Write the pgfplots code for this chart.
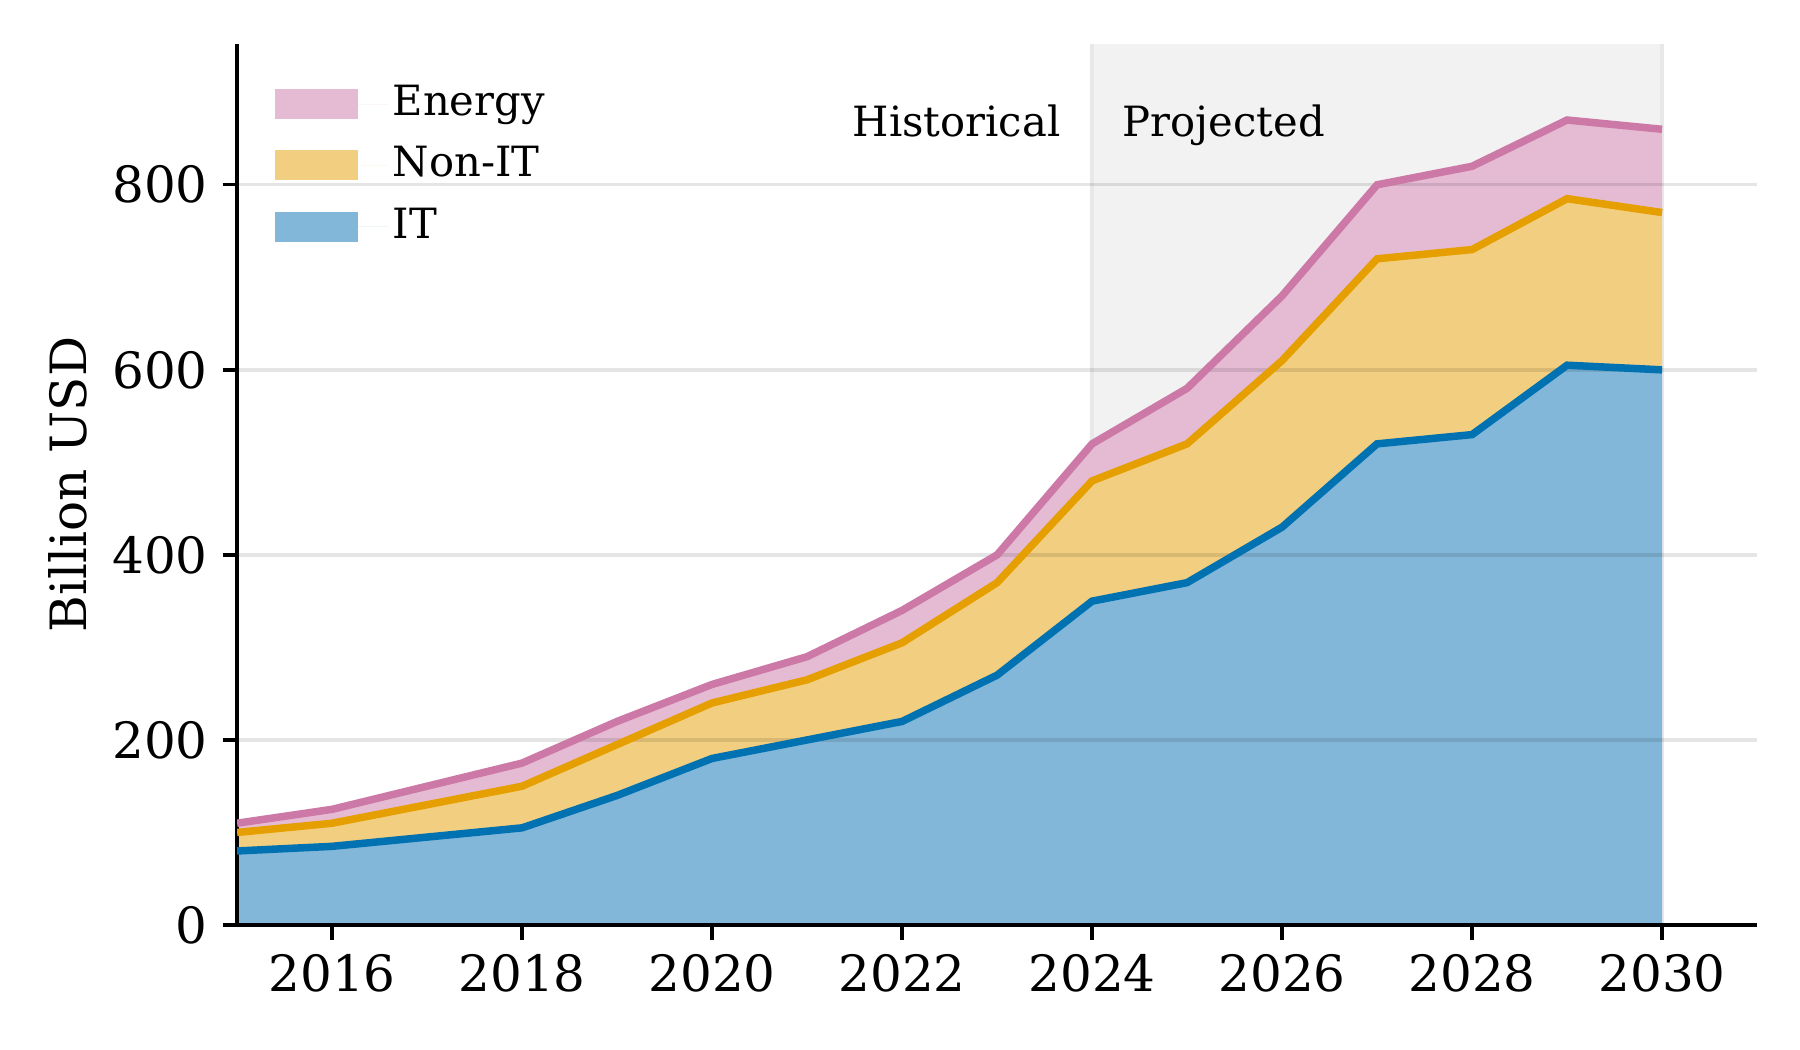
\documentclass[border=0pt]{standalone}
\usepackage{fontspec}
\setmainfont{DejaVu Serif}
\usepackage{pgfplots}
\usepackage{pgfplotstable}
\pgfplotsset{compat=1.18}
\usepgfplotslibrary{fillbetween}

\definecolor{itblue}{HTML}{0072B2}
\definecolor{nonitorange}{HTML}{E69F00}
\definecolor{energypink}{HTML}{CC79A7}
\definecolor{itfill}{HTML}{82B7D9}
\definecolor{nonitfill}{HTML}{F2CF80}
\definecolor{energyfill}{HTML}{E5BBD3}

\pgfplotsset{
    layers/chartlayers/.define layer set={
        axis background,pre main,axis grid,main,
        axis ticks,axis lines,axis tick labels,
        axis descriptions,axis foreground}{},
}

% cumulative tops of the stacked areas (billion USD)
\pgfplotstableread{
year it  nonit energy
2015 80  100   110
2016 85  110   125
2017 95  130   150
2018 105 150   175
2019 140 195   220
2020 180 240   260
2021 200 265   290
2022 220 305   340
2023 270 370   400
2024 350 480   520
2025 370 520   580
2026 430 610   680
2027 520 720   800
2028 530 730   820
2029 605 785   870
2030 600 770   860
}\costs

\begin{document}
\begin{tikzpicture}
\begin{axis}[
    set layers=chartlayers,
    fill between/on layer=pre main,
    at={(0pt,0pt)}, anchor=south west,
    scale only axis,
    width=364.8pt, height=211.4pt,
    xmin=2015, xmax=2031,
    ymin=0, ymax=952,
    xtick={2016,2018,...,2030},
    ytick={0,200,...,800},
    axis x line*=bottom, axis y line*=left,
    axis line style={black, line width=0.8pt},
    tick align=outside,
    major tick length=3.5pt,
    every tick/.style={black, line width=0.8pt},
    ymajorgrids=true,
    grid style={black, opacity=0.1, line width=0.8pt},
    /pgf/number format/1000 sep={},
    /pgf/number format/assume math mode=true,
    tick label style={font=\fontsize{12}{14}\selectfont},
    ylabel={Billion USD},
    ylabel style={font=\fontsize{12}{14}\selectfont,
        at={(axis description cs:-0.1116,0.5)}, anchor=center},
    reverse legend,
    legend cell align=left,
    legend style={at={(axis description cs:0.0245,0.96)}, anchor=north west,
        draw=none, fill=none, inner sep=0pt, row sep=3.2pt,
        font=\fontsize{10}{12}\selectfont,
        nodes={inner sep=1pt, text height=7.5pt, text depth=2pt}},
    area legend/.style={legend image code/.code={
        \fill[##1, draw=none] (0pt,-3.6pt) rectangle (19.9pt,3.6pt);
        \path (0pt,0pt) -- (27.2pt,0pt);}},
]

% projected period
\begin{pgfonlayer}{axis background}
\fill[black!5] (2024,0) rectangle (2030,952);
\draw[black!9, line width=0.8pt] (2024,0) -- (2024,952);
\draw[black!9, line width=0.8pt] (2030,0) -- (2030,952);
\end{pgfonlayer}

\addplot[draw=none, name path=it, forget plot] table[x=year, y=it] {\costs};
\addplot[draw=none, name path=nonit, forget plot] table[x=year, y=nonit] {\costs};
\addplot[draw=none, name path=energy, forget plot] table[x=year, y=energy] {\costs};
\path[name path=base] (2015,0) -- (2030,0);

\addplot[fill=itfill, draw=none] fill between[of=it and base];
\addlegendentry{IT}
\addplot[fill=nonitfill, draw=none] fill between[of=nonit and it];
\addlegendentry{Non-IT}
\addplot[fill=energyfill, draw=none] fill between[of=energy and nonit];
\addlegendentry{Energy}

\addplot[itblue, line width=1.8pt, forget plot] table[x=year, y=it] {\costs};
\addplot[nonitorange, line width=1.8pt, forget plot] table[x=year, y=nonit] {\costs};
\addplot[energypink, line width=1.8pt, forget plot] table[x=year, y=energy] {\costs};

\node[anchor=base east, xshift=-7.4pt, inner sep=0pt,
    font=\fontsize{10}{12}\selectfont] at (2024,852) {Historical};
\node[anchor=base west, xshift=7.2pt, inner sep=0pt,
    font=\fontsize{10}{12}\selectfont] at (2024,852) {Projected};
\end{axis}
\path (-56.9pt,-30pt) rectangle (375.1pt,222pt);
\end{tikzpicture}
\end{document}
